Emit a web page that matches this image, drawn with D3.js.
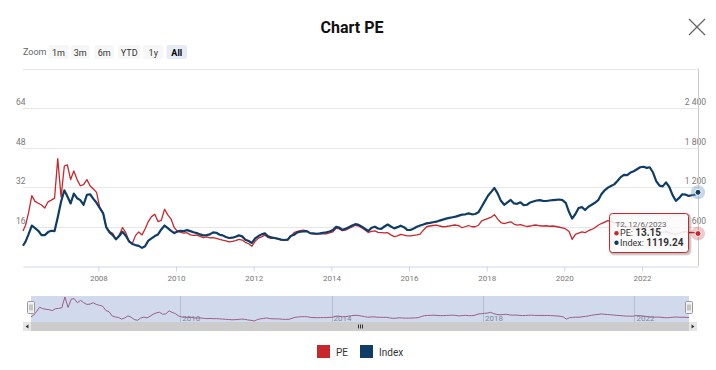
<!DOCTYPE html>
<html><head><meta charset="utf-8">
<script src="https://cdn.jsdelivr.net/npm/d3@7"></script>
<style>
body{margin:0;background:#fff;}
svg{display:block;font-family:Roboto,"Open Sans",sans-serif;}
</style>
</head><body>
<svg id="c" width="716" height="370"></svg>
<script>
// ---------- data ----------
const title = "Chart PE";
const seriesNames = ["PE", "Index"];
const startDate = "2006-01-22";
const endDate = "2023-06-12";
const tooltipHeader = "T2, 12/6/2023";
// one value per date: start date, mid-month Feb 2006 .. May 2023, end date
const peValues = [
  14.2, 16.5, 21.5, 28.5, 26.2, 25.4, 24.7, 23.5, 26.0, 26.7, 27.5, 43.5,
  28.0, 40.5, 41.0, 35.0, 38.5, 35.0, 32.5, 33.0, 35.0, 32.5, 31.2, 29.8,
  23.5, 21.5, 15.5, 14.0, 13.2, 10.8, 12.5, 15.6, 13.5, 10.2, 9.0, 12.3,
  13.8, 12.6, 15.0, 18.0, 20.0, 21.0, 18.0, 18.5, 23.0, 20.7, 19.0, 15.5,
  14.0, 13.6, 13.3, 13.5, 12.6, 12.4, 12.5, 12.0, 11.5, 11.8, 11.4, 11.5,
  11.2, 10.8, 10.5, 10.2, 9.8, 10.0, 10.3, 10.8, 10.5, 9.6, 9.0, 8.0,
  10.0, 11.3, 11.8, 12.5, 11.5, 11.2, 11.2, 11.0, 10.6, 10.4, 10.5, 12.0,
  13.5, 14.0, 14.3, 14.5, 14.2, 13.2, 13.0, 12.9, 13.0, 13.1, 13.0, 13.4,
  13.8, 15.3, 15.0, 14.3, 14.5, 15.2, 15.8, 16.5, 16.2, 15.4, 14.5, 13.6,
  14.0, 14.2, 13.6, 13.5, 13.4, 13.5, 12.6, 11.9, 12.2, 12.8, 12.5, 12.2,
  12.2, 12.4, 12.6, 12.9, 14.5, 15.9, 16.2, 16.4, 16.6, 16.2, 15.9, 16.0,
  16.2, 16.5, 16.6, 16.3, 15.5, 16.0, 16.4, 15.9, 15.9, 16.5, 18.3, 18.8,
  19.3, 19.8, 20.8, 19.0, 17.6, 17.2, 17.6, 17.9, 17.0, 16.6, 16.8, 16.4,
  16.0, 16.2, 16.5, 16.6, 16.3, 16.2, 16.3, 16.1, 16.2, 16.0, 15.7, 15.4,
  15.0, 14.0, 10.8, 12.8, 13.3, 13.8, 13.5, 14.3, 14.8, 15.5, 16.5, 17.2,
  17.8, 18.4, 18.0, 17.6, 17.2, 16.8, 16.4, 16.0, 15.6, 15.3, 15.2, 15.0,
  16.0, 15.8, 15.6, 15.0, 14.2, 13.8, 13.6, 13.9, 13.5, 13.0, 12.8, 13.2,
  13.7, 13.9, 13.5, 13.6, 13.4, 13.15
];
const indexValues = [
  308, 370, 480, 615, 575, 535, 470, 470, 515, 535, 530, 740,
  975, 1150, 1060, 950, 1100, 1030, 1000, 930, 1080, 1090, 1020, 960,
  880, 800, 590, 510, 470, 405, 455, 520, 460, 375, 335, 318,
  305, 275, 300, 385, 420, 455, 480, 555, 615, 575, 535, 500,
  525, 535, 530, 545, 530, 512, 500, 480, 465, 470, 480, 510,
  505, 475, 465, 440, 425, 430, 445, 465, 450, 400, 380, 350,
  420, 455, 480, 495, 450, 435, 425, 415, 400, 395, 400, 455,
  475, 510, 520, 525, 530, 500, 495, 490, 495, 505, 512, 525,
  545, 595, 585, 550, 565, 590, 615, 635, 625, 597, 565, 532,
  580, 597, 570, 565, 600, 630, 600, 572, 590, 612, 590, 550,
  547, 570, 597, 615, 630, 648, 655, 665, 673, 690, 705, 720,
  730, 740, 750, 765, 780, 785, 800, 785, 790, 815, 900, 985,
  1070, 1130, 1185, 1100, 990, 930, 965, 1003, 950, 945, 967, 925,
  930, 965, 980, 995, 1000, 990, 987, 995, 1000, 1005, 1010, 1000,
  960, 820, 720, 790, 880, 895, 850, 900, 930, 960, 1000, 1090,
  1150, 1190, 1215, 1240, 1290, 1350, 1385, 1380, 1420, 1440, 1470, 1500,
  1508, 1490, 1500, 1420, 1290, 1220, 1210, 1270, 1200, 1080, 990, 1030,
  1090, 1085, 1065, 1075, 1085, 1119.24
];
const leftTicks = [16, 32, 48, 64, 80];
const rightTicks = [600, 1200, 1800, 2400, 3000];
const xTickYears = [2008, 2010, 2012, 2014, 2016, 2018, 2020, 2022];
const navTickYears = [2010, 2014, 2018, 2022];
const zoomButtons = ["1m", "3m", "6m", "YTD", "1y", "All"];

// ---------- setup ----------
const parse = d3.timeParse("%Y-%m-%d");
const monthly = d3.timeMonth.range(new Date(2006, 1, 1), new Date(2023, 5, 1)).map(d => d3.timeDay.offset(d, 14));
const dates = [parse(startDate), ...monthly, parse(endDate)];
const data = dates.map((d, i) => ({date: d, pe: peValues[i], idx: indexValues[i]}));

const C = {pe: "#c8282c", idx: "#0f3d66", grid: "#e6e6e6", axis: "#ccd6eb", label: "#777"};
const svg = d3.select("#c");
const P = {l: 23, r: 698, t: 68.5, b: 266};

const x = d3.scaleTime().domain([dates[0], dates[dates.length - 1]]).range([P.l, P.r]);
const yL = d3.scaleLinear().domain([0, 80]).range([P.b, P.t]);
const yR = d3.scaleLinear().domain([0, 3000]).range([P.b, P.t]);

// title & close
svg.append("text").attr("x", 352).attr("y", 33).attr("text-anchor", "middle")
  .attr("font-size", 16).attr("font-weight", "bold").attr("fill", "#111").text(title);
svg.append("path").attr("d", "M689,19L705,35M705,19L689,35").attr("stroke", "#666").attr("stroke-width", 1.3).attr("fill", "none");

// zoom buttons
svg.append("text").attr("x", 23).attr("y", 55).attr("font-size", 9).attr("fill", "#666").text("Zoom");
const btnX = [48.5, 71, 94.5, 118, 143, 166.5];
const btnW = [20, 18.5, 19.5, 22.5, 20.5, 20.5];
zoomButtons.forEach((b, i) => {
  const sel = b === "All";
  svg.append("rect").attr("x", btnX[i]).attr("y", 45).attr("width", btnW[i]).attr("height", 14)
    .attr("rx", 2).attr("fill", sel ? "#e6ebf5" : "#f7f7f7");
  svg.append("text").attr("x", btnX[i] + btnW[i] / 2).attr("y", 55.5).attr("text-anchor", "middle")
    .attr("font-size", 9).attr("font-weight", sel ? "bold" : "normal").attr("fill", sel ? "#000" : "#333").text(b);
});

// grid
svg.append("g").selectAll("line").data(leftTicks).join("line")
  .attr("x1", P.l).attr("x2", P.r).attr("y1", d => Math.round(yL(d)) + 0.5).attr("y2", d => Math.round(yL(d)) + 0.5)
  .attr("stroke", C.grid);

// y labels
svg.append("g").selectAll("text").data(leftTicks.slice(0, -1)).join("text")
  .attr("x", 16).attr("y", d => yL(d) - 3).attr("font-size", 8.5).attr("fill", C.label).text(d => d);
const fmtR = v => d3.format(",")(v).replace(/,/g, " ");
svg.append("g").selectAll("text").data(rightTicks.slice(0, -1)).join("text")
  .attr("x", 706).attr("y", d => yR(d) - 3).attr("text-anchor", "end").attr("font-size", 8.5).attr("fill", C.label).text(fmtR);

// x axis
const xAxis = svg.append("g").attr("transform", `translate(0,${P.b + 0.5})`)
  .call(d3.axisBottom(x).tickValues(xTickYears.map(y => new Date(y, 0, 1))).tickFormat(d3.timeFormat("%Y")).tickSize(5).tickSizeOuter(0).tickPadding(4));
xAxis.select(".domain").attr("stroke", C.axis);
xAxis.selectAll(".tick line").attr("stroke", C.axis);
xAxis.selectAll("text").attr("fill", C.label).attr("font-size", 8).attr("font-family", "Roboto,sans-serif");

// crosshair
svg.append("line").attr("x1", x(dates[dates.length - 1]) + 0.5).attr("x2", x(dates[dates.length - 1]) + 0.5)
  .attr("y1", P.t).attr("y2", P.b).attr("stroke", "#cccccc");

// series
const linePE = d3.line().x(d => x(d.date)).y(d => yL(d.pe));
const lineIdx = d3.line().x(d => x(d.date)).y(d => yR(d.idx));
svg.append("path").datum(data).attr("d", linePE).attr("fill", "none").attr("stroke", C.pe).attr("stroke-width", 1.3).attr("stroke-linejoin", "round");
svg.append("path").datum(data).attr("d", lineIdx).attr("fill", "none").attr("stroke", C.idx).attr("stroke-width", 2.2).attr("stroke-linejoin", "round");

// last point markers
const last = data[data.length - 1];
svg.append("circle").attr("cx", x(last.date)).attr("cy", yR(last.idx)).attr("r", 7).attr("fill", "#7fa3c8").attr("opacity", 0.45);
svg.append("circle").attr("cx", x(last.date)).attr("cy", yR(last.idx)).attr("r", 3).attr("fill", C.idx).attr("stroke", "#fff").attr("stroke-width", 1);
svg.append("circle").attr("cx", x(last.date)).attr("cy", yL(last.pe)).attr("r", 7).attr("fill", C.pe).attr("opacity", 0.25);
svg.append("circle").attr("cx", x(last.date)).attr("cy", yL(last.pe)).attr("r", 3).attr("fill", C.pe).attr("stroke", "#fff").attr("stroke-width", 1);

// tooltip
const tt = svg.append("g").attr("transform", "translate(609.5,213.5)");
[3, 2, 1].forEach(s => tt.append("rect").attr("x", s * 0.5).attr("y", s * 0.5).attr("width", 79).attr("height", 39).attr("rx", 3)
  .attr("fill", "none").attr("stroke", "#000").attr("stroke-opacity", 0.05 * s).attr("stroke-width", s));
tt.append("rect").attr("width", 79).attr("height", 39).attr("rx", 3).attr("fill", "rgba(250,250,250,0.88)").attr("stroke", C.pe);
tt.append("text").attr("x", 6).attr("y", 13).attr("font-size", 8).attr("fill", "#666").text(tooltipHeader);
const rows = [{n: seriesNames[0], v: d3.format(".2f")(last.pe), c: C.pe, y: 22.8}, {n: seriesNames[1], v: d3.format(".2f")(last.idx), c: C.idx, y: 32.2}];
rows.forEach(r => {
  tt.append("circle").attr("cx", 7).attr("cy", r.y - 3).attr("r", 2.2).attr("fill", r.c);
  const t = tt.append("text").attr("x", 10.5).attr("y", r.y).attr("font-size", 9).attr("fill", "#333");
  t.append("tspan").text(r.n + ": ");
  t.append("tspan").attr("font-weight", "bold").attr("font-size", 10).text(r.v);
});

// ---------- navigator ----------
const N = {l: 31, r: 689, t: 296, b: 322};
const xN = d3.scaleTime().domain(x.domain()).range([N.l, N.r]);
const yN = d3.scaleLinear().domain(d3.extent(peValues)).range([N.b - 1, N.t + 1]);
const nav = svg.append("g");
nav.selectAll("line.g").data(navTickYears).join("line")
  .attr("x1", d => Math.round(xN(new Date(d, 0, 1))) + 0.5).attr("x2", d => Math.round(xN(new Date(d, 0, 1))) + 0.5)
  .attr("y1", N.t).attr("y2", N.b).attr("stroke", "#d8d8d8");
nav.selectAll("text").data(navTickYears).join("text")
  .attr("x", d => xN(new Date(d, 0, 1)) + 2).attr("y", N.b - 1.5).attr("font-size", 8).attr("fill", "#888").text(d => d);
nav.append("path").datum(data).attr("d", d3.line().x(d => xN(d.date)).y(d => yN(d.pe)))
  .attr("fill", "none").attr("stroke", "#b0506a").attr("stroke-width", 1);
nav.append("rect").attr("x", N.l).attr("y", N.t).attr("width", N.r - N.l).attr("height", N.b - N.t)
  .attr("fill", "rgba(102,133,194,0.3)");
// handles
[N.l, N.r].forEach(hx => {
  nav.append("rect").attr("x", hx - 3.5).attr("y", 301.5).attr("width", 7).attr("height", 12).attr("rx", 1)
    .attr("fill", "#f2f2f2").attr("stroke", "#999");
  nav.append("path").attr("d", `M${hx - 1},304.5V310.5M${hx + 1},304.5V310.5`).attr("stroke", "#999");
});
// scrollbar
const S = {y: 322, h: 9};
nav.append("rect").attr("x", 23).attr("y", S.y).attr("width", 674).attr("height", S.h).attr("fill", "#f2f2f2");
nav.append("rect").attr("x", N.l).attr("y", S.y).attr("width", N.r - N.l).attr("height", S.h).attr("fill", "#cccccc");
[358, 360, 362].forEach(gx => nav.append("line").attr("x1", gx + 0.5).attr("x2", gx + 0.5).attr("y1", S.y + 2.5).attr("y2", S.y + 6.5).attr("stroke", "#333"));
nav.append("rect").attr("x", 23).attr("y", S.y).attr("width", 8).attr("height", S.h).attr("fill", "#e6e6e6");
nav.append("rect").attr("x", 689).attr("y", S.y).attr("width", 8).attr("height", S.h).attr("fill", "#e6e6e6");
nav.append("path").attr("d", `M28.5,${S.y + 2.5}L25.5,${S.y + 4.5}L28.5,${S.y + 6.5}Z`).attr("fill", "#333");
nav.append("path").attr("d", `M691.5,${S.y + 2.5}L694.5,${S.y + 4.5}L691.5,${S.y + 6.5}Z`).attr("fill", "#333");

// ---------- legend ----------
const legX = [317, 360];
seriesNames.forEach((n, i) => {
  svg.append("rect").attr("x", legX[i]).attr("y", 345).attr("width", 13).attr("height", 13).attr("fill", i ? C.idx : C.pe);
  svg.append("text").attr("x", legX[i] + 19).attr("y", 355.5).attr("font-size", 10).attr("fill", "#333").text(n);
});
</script>
</body></html>
